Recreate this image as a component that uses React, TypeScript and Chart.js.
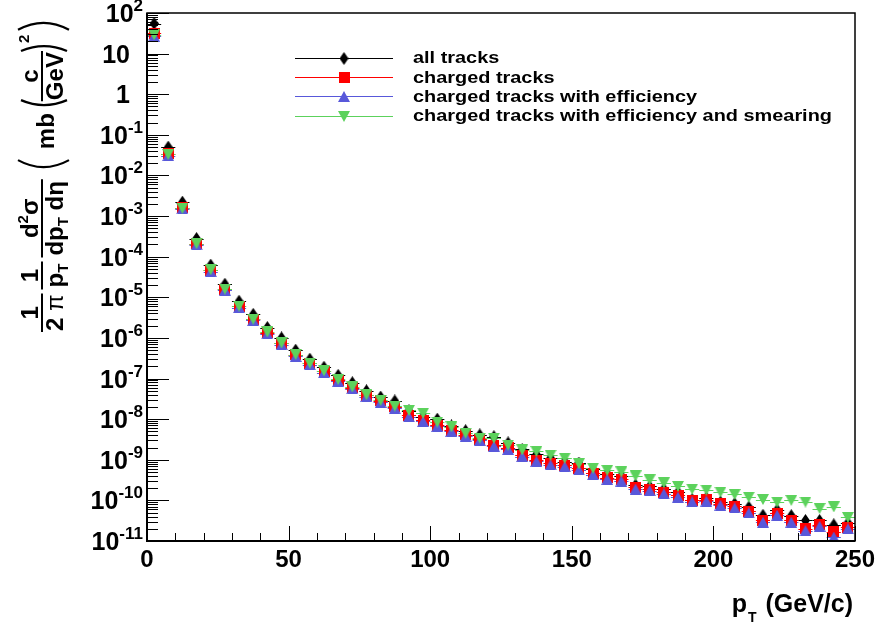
import React, { useEffect, useRef } from "react";
import { Chart, registerables } from "chart.js";

Chart.register(...registerables);

// ---------------- data ----------------
const ptBinCenters = [
  2.5, 7.5, 12.5, 17.5, 22.5, 27.5, 32.5, 37.5, 42.5, 47.5,
  52.5, 57.5, 62.5, 67.5, 72.5, 77.5, 82.5, 87.5, 92.5, 97.5,
  102.5, 107.5, 112.5, 117.5, 122.5, 127.5, 132.5, 137.5, 142.5, 147.5,
  152.5, 157.5, 162.5, 167.5, 172.5, 177.5, 182.5, 187.5, 192.5, 197.5,
  202.5, 207.5, 212.5, 217.5, 222.5, 227.5, 232.5, 237.5, 242.5, 247.5,
];
const ptBinHalfWidth = 2.5;

const allTracks = [
  55, 0.05, 2.2e-3, 2.8e-4, 6.2e-5, 2.1e-5, 8e-6, 3.8e-6, 1.8e-6, 1e-6,
  5e-7, 3e-7, 1.9e-7, 1.2e-7, 7.9e-8, 5e-8, 3.5e-8, 2.8e-8, 1.6e-8, 1.15e-8,
  1e-8, 6.8e-9, 5.2e-9, 4.1e-9, 3.7e-9, 2.6e-9, 1.8e-9, 1.35e-9, 1.1e-9, 9e-10,
  8.3e-10, 5.8e-10, 4.5e-10, 4e-10, 2.4e-10, 2.2e-10, 1.9e-10, 1.6e-10, 1.05e-10, 1.15e-10,
  9.1e-11, 8.3e-11, 6.8e-11, 4.3e-11, 5.8e-11, 4.2e-11, 3.2e-11, 3.2e-11, 2.5e-11, 2.8e-11,
];
const chargedTracks = [
  32, 0.034, 1.6e-3, 2.1e-4, 4.7e-5, 1.6e-5, 6e-6, 2.9e-6, 1.35e-6, 7.3e-7,
  3.8e-7, 2.4e-7, 1.5e-7, 9.1e-8, 6e-8, 3.9e-8, 2.8e-8, 2e-8, 1.25e-8, 9.5e-9,
  7.1e-9, 5.4e-9, 4.1e-9, 3.2e-9, 2.3e-9, 1.95e-9, 1.3e-9, 9.8e-10, 8.1e-10, 7.4e-10,
  6.1e-10, 4.7e-10, 3.6e-10, 3.3e-10, 2.1e-10, 1.9e-10, 1.6e-10, 1.35e-10, 1e-10, 1.05e-10,
  8.3e-11, 7.2e-11, 5.4e-11, 3.2e-11, 4.8e-11, 3.2e-11, 2e-11, 2.5e-11, 1.7e-11, 2.2e-11,
];
const chargedEff = [
  27, 0.031, 1.5e-3, 1.95e-4, 4.3e-5, 1.5e-5, 5.6e-6, 2.7e-6, 1.25e-6, 6.8e-7,
  3.5e-7, 2.2e-7, 1.4e-7, 8.5e-8, 5.6e-8, 3.6e-8, 2.6e-8, 1.85e-8, 1.15e-8, 8.8e-9,
  6.6e-9, 5e-9, 3.8e-9, 3e-9, 2.15e-9, 1.8e-9, 1.2e-9, 9.1e-10, 7.5e-10, 6.8e-10,
  5.6e-10, 4.3e-10, 3.3e-10, 3e-10, 1.9e-10, 1.75e-10, 1.45e-10, 1.2e-10, 9.2e-11, 9.6e-11,
  7.6e-11, 6.5e-11, 4.9e-11, 2.9e-11, 4.3e-11, 2.9e-11, 1.8e-11, 2.3e-11, 1.25e-11, 2e-11,
];
const chargedEffSmear = [
  29, 0.033, 1.55e-3, 2.1e-4, 4.8e-5, 1.6e-5, 6.1e-6, 2.9e-6, 1.4e-6, 7.5e-7,
  3.9e-7, 2.4e-7, 1.55e-7, 9.5e-8, 6.2e-8, 4e-8, 2.9e-8, 2.1e-8, 1.65e-8, 1.4e-8,
  8.5e-9, 6.5e-9, 4.5e-9, 3.4e-9, 3.4e-9, 2.3e-9, 1.75e-9, 1.6e-9, 1.3e-9, 1.1e-9,
  8e-10, 6.2e-10, 5.5e-10, 5e-10, 4e-10, 3.2e-10, 2.7e-10, 2.2e-10, 1.9e-10, 1.8e-10,
  1.6e-10, 1.4e-10, 1.2e-10, 1.05e-10, 9.1e-11, 1e-10, 9.1e-11, 6.3e-11, 6.9e-11, 3.8e-11,
];

const seriesLabels = [
  "all tracks",
  "charged tracks",
  "charged tracks with efficiency",
  "charged tracks with efficiency and smearing",
];
const seriesColors = ["#000000", "#ff0000", "#5858da", "#5cd25c"];
const seriesValues = [allTracks, chargedTracks, chargedEff, chargedEffSmear];
const seriesMarkers = ["diamond", "square", "triUp", "triDown"];

const xMin = 0;
const xMax = 250;
const xMajorTicks = [0, 50, 100, 150, 200, 250];
const xMinorStep = 10;
const yMinExp = -11;
const yMaxExp = 2;

const FONT = '"Liberation Sans", Arial, Helvetica, sans-serif';

// ---------------- marker images ----------------
function makeMarker(kind: string, color: string): HTMLCanvasElement {
  const c = document.createElement("canvas");
  const g = c.getContext("2d")!;
  if (kind === "diamond") {
    c.width = 9; c.height = 13;
    g.fillStyle = color;
    g.beginPath();
    g.moveTo(4.5, 0); g.lineTo(9, 6.5); g.lineTo(4.5, 13); g.lineTo(0, 6.5);
    g.closePath(); g.fill();
  } else if (kind === "square") {
    c.width = 11; c.height = 11;
    g.fillStyle = color;
    g.fillRect(0, 0, 11, 11);
  } else if (kind === "triUp") {
    c.width = 12; c.height = 11;
    g.fillStyle = color;
    g.beginPath();
    g.moveTo(6, 0); g.lineTo(12, 11); g.lineTo(0, 11);
    g.closePath(); g.fill();
  } else {
    c.width = 12; c.height = 11;
    g.fillStyle = color;
    g.beginPath();
    g.moveTo(0, 0); g.lineTo(12, 0); g.lineTo(6, 11);
    g.closePath(); g.fill();
  }
  return c;
}

// ---------------- drawing helpers ----------------
type Run = [string, string, number];

function drawYTitle(ctx: CanvasRenderingContext2D) {
  ctx.save();
  ctx.translate(42, 332);
  ctx.rotate(-Math.PI / 2);
  ctx.fillStyle = "#000";
  ctx.strokeStyle = "#000";
  ctx.textBaseline = "alphabetic";
  ctx.textAlign = "left";
  const B = (s: number) => `bold ${s}px ${FONT}`;
  const N = (s: number) => `${s}px ${FONT}`;
  const width = (runs: Run[]) =>
    runs.reduce((w, [t, f]) => {
      ctx.font = f;
      return w + ctx.measureText(t).width;
    }, 0);
  const drawRuns = (runs: Run[], u: number) => {
    let cu = u;
    for (const [t, f, dv] of runs) {
      ctx.font = f;
      ctx.fillText(t, cu, dv);
      cu += ctx.measureText(t).width;
    }
    return cu;
  };
  const frac = (num: Run[], den: Run[], uStart: number, pad: number) => {
    const wn = width(num);
    const wd = width(den);
    const w = Math.max(wn, wd) + 2 * pad;
    drawRuns(num, uStart + (w - wn) / 2);
    drawRuns(den, uStart + (w - wd) / 2);
    ctx.lineWidth = 2;
    ctx.beginPath();
    ctx.moveTo(uStart, 0);
    ctx.lineTo(uStart + w, 0);
    ctx.stroke();
    return uStart + w;
  };
  const paren = (u: number, open: boolean, vTop: number, vBot: number, depth: number) => {
    ctx.lineWidth = 2.2;
    ctx.beginPath();
    if (open) {
      ctx.moveTo(u + depth, vTop);
      ctx.quadraticCurveTo(u - depth, (vTop + vBot) / 2, u + depth, vBot);
    } else {
      ctx.moveTo(u - depth, vTop);
      ctx.quadraticCurveTo(u + depth, (vTop + vBot) / 2, u - depth, vBot);
    }
    ctx.stroke();
  };

  let u = frac([["1", B(24), -4]], [["2", B(24), 21], [" ", B(24), 21], ["π", N(24), 21]], 0, 1);
  u = frac([["1", B(24), -4]], [["p", B(24), 21], ["T", B(15), 26]], u + 4, 2);
  u = frac(
    [["d", B(24), -4], ["2", B(15), -14], ["σ", B(24), -4]],
    [["dp", B(24), 21], ["T", B(15), 26], [" ", B(24), 21], ["dη", B(24), 21]],
    u + 4,
    2
  );
  paren(u + 12, true, -24, 27, 7);
  u = drawRuns([["mb", B(24), 12]], u + 30);
  paren(u + 8, true, -21, 25, 5);
  u = frac([["c", B(24), -4]], [["GeV", B(24), 21]], u + 12, 1);
  paren(u + 5, false, -21, 25, 5);
  u = drawRuns([["2", B(15), -13]], u + 8);
  paren(u + 12, false, -24, 27, 7);
  ctx.restore();
}

const rootPlugin = {
  id: "rootStyle",
  beforeDatasetsDraw(chart: any) {
    const { ctx, scales } = chart;
    const xs = scales.x;
    const ys = scales.y;
    ctx.save();
    ctx.lineWidth = 1;
    seriesValues.forEach((vals, si) => {
      ctx.strokeStyle = seriesColors[si];
      vals.forEach((v, i) => {
        const x0 = xs.getPixelForValue(ptBinCenters[i] - ptBinHalfWidth);
        const x1 = xs.getPixelForValue(ptBinCenters[i] + ptBinHalfWidth);
        const py = Math.round(ys.getPixelForValue(v)) + 0.5;
        ctx.beginPath();
        ctx.moveTo(x0, py);
        ctx.lineTo(x1, py);
        ctx.stroke();
      });
    });
    ctx.restore();
  },
  afterDraw(chart: any) {
    const { ctx, chartArea, scales } = chart;
    const xs = scales.x;
    const ys = scales.y;
    const { left, right, top, bottom } = chartArea;
    ctx.save();
    ctx.strokeStyle = "#000";
    ctx.fillStyle = "#000";

    // frame
    ctx.lineWidth = 1.5;
    ctx.strokeRect(left, top, right - left, bottom - top);
    ctx.lineWidth = 2;
    ctx.beginPath();
    ctx.moveTo(left, top);
    ctx.lineTo(left, bottom);
    ctx.lineTo(right, bottom);
    ctx.stroke();

    // y ticks
    ctx.lineWidth = 1;
    for (let e = yMinExp; e <= yMaxExp; e++) {
      const py = Math.round(ys.getPixelForValue(Math.pow(10, e))) + 0.5;
      ctx.beginPath();
      ctx.moveTo(left, py);
      ctx.lineTo(left + 22, py);
      ctx.stroke();
      if (e < yMaxExp) {
        for (let k = 2; k <= 9; k++) {
          const pm = Math.round(ys.getPixelForValue(k * Math.pow(10, e))) + 0.5;
          ctx.beginPath();
          ctx.moveTo(left, pm);
          ctx.lineTo(left + 11, pm);
          ctx.stroke();
        }
      }
    }
    // x ticks
    for (let v = xMin; v <= xMax; v += xMinorStep) {
      const px = Math.round(xs.getPixelForValue(v)) + 0.5;
      const len = xMajorTicks.includes(v) ? 15 : 8;
      ctx.beginPath();
      ctx.moveTo(px, bottom);
      ctx.lineTo(px, bottom - len);
      ctx.stroke();
    }

    // x labels
    ctx.font = `bold 24px ${FONT}`;
    ctx.textAlign = "center";
    ctx.textBaseline = "alphabetic";
    xMajorTicks.forEach((v) => {
      ctx.fillText(String(v), xs.getPixelForValue(v), 567);
    });

    // y labels
    for (let e = yMinExp; e <= yMaxExp; e++) {
      const py = ys.getPixelForValue(Math.pow(10, e));
      ctx.textAlign = "right";
      if (e === 0 || e === 1) {
        ctx.font = `bold 25px ${FONT}`;
        ctx.fillText(e === 0 ? "1" : "10", 130, py + 9);
      } else {
        const sup = String(e);
        ctx.font = `bold 17px ${FONT}`;
        const sw = ctx.measureText(sup).width;
        ctx.fillText(sup, 143, py - 2);
        ctx.font = `bold 25px ${FONT}`;
        ctx.fillText("10", 143 - sw, py + 9);
      }
    }

    // x title
    ctx.textAlign = "right";
    ctx.font = `bold 25px ${FONT}`;
    const tw = ctx.measureText("(GeV/c)").width;
    ctx.fillText("(GeV/c)", 853, 612);
    ctx.font = `bold 14px ${FONT}`;
    const tx = 853 - tw - 9;
    ctx.fillText("T", tx, 622);
    const tWidth = ctx.measureText("T").width;
    ctx.font = `bold 25px ${FONT}`;
    ctx.fillText("p", tx - tWidth - 1, 612);

    // y title
    drawYTitle(ctx);

    // legend
    const rows = [57.7, 77, 96.3, 115.7];
    rows.forEach((ry, i) => {
      const yy = Math.round(ry) + 0.5;
      ctx.strokeStyle = seriesColors[i];
      ctx.lineWidth = 1;
      ctx.beginPath();
      ctx.moveTo(295, yy);
      ctx.lineTo(393, yy);
      ctx.stroke();
      const img = markerImages[i];
      ctx.drawImage(img, 344 - img.width / 2, yy - img.height / 2);
      ctx.save();
      ctx.fillStyle = "#000";
      ctx.textAlign = "left";
      ctx.font = `bold 17px ${FONT}`;
      ctx.translate(413, ry + 5.5);
      ctx.scale(1.17, 1);
      ctx.fillText(seriesLabels[i], 0, 0);
      ctx.restore();
    });

    ctx.restore();
  },
};

let markerImages: HTMLCanvasElement[] = [];

export default function App() {
  const canvasRef = useRef<HTMLCanvasElement | null>(null);

  useEffect(() => {
    const canvas = canvasRef.current;
    if (!canvas) return;
    markerImages = seriesMarkers.map((m, i) => makeMarker(m, seriesColors[i]));
    const order = [3, 2, 1, 0];
    const chart = new Chart(canvas, {
      type: "scatter",
      data: {
        datasets: seriesValues.map((vals, si) => ({
          label: seriesLabels[si],
          data: vals.map((v, i) => ({ x: ptBinCenters[i], y: v })),
          pointStyle: markerImages[si],
          pointRadius: 6,
          pointHoverRadius: 6,
          showLine: false,
          borderColor: seriesColors[si],
          backgroundColor: seriesColors[si],
          order: order[si],
        })),
      },
      options: {
        animation: false,
        responsive: false,
        devicePixelRatio: 1,
        events: [],
        layout: { padding: { left: 147, right: 23, top: 13, bottom: 87 } },
        plugins: { legend: { display: false }, tooltip: { enabled: false } },
        scales: {
          x: { type: "linear", min: xMin, max: xMax, display: false },
          y: {
            type: "logarithmic",
            min: Math.pow(10, yMinExp),
            max: Math.pow(10, yMaxExp),
            display: false,
          },
        },
      },
      plugins: [rootPlugin],
    });
    return () => chart.destroy();
  }, []);

  return (
    <div style={{ position: "fixed", left: 0, top: 0, width: 878, height: 628, background: "#fff" }}>
      <canvas ref={canvasRef} width={878} height={628} style={{ width: 878, height: 628, display: "block" }} />
    </div>
  );
}
